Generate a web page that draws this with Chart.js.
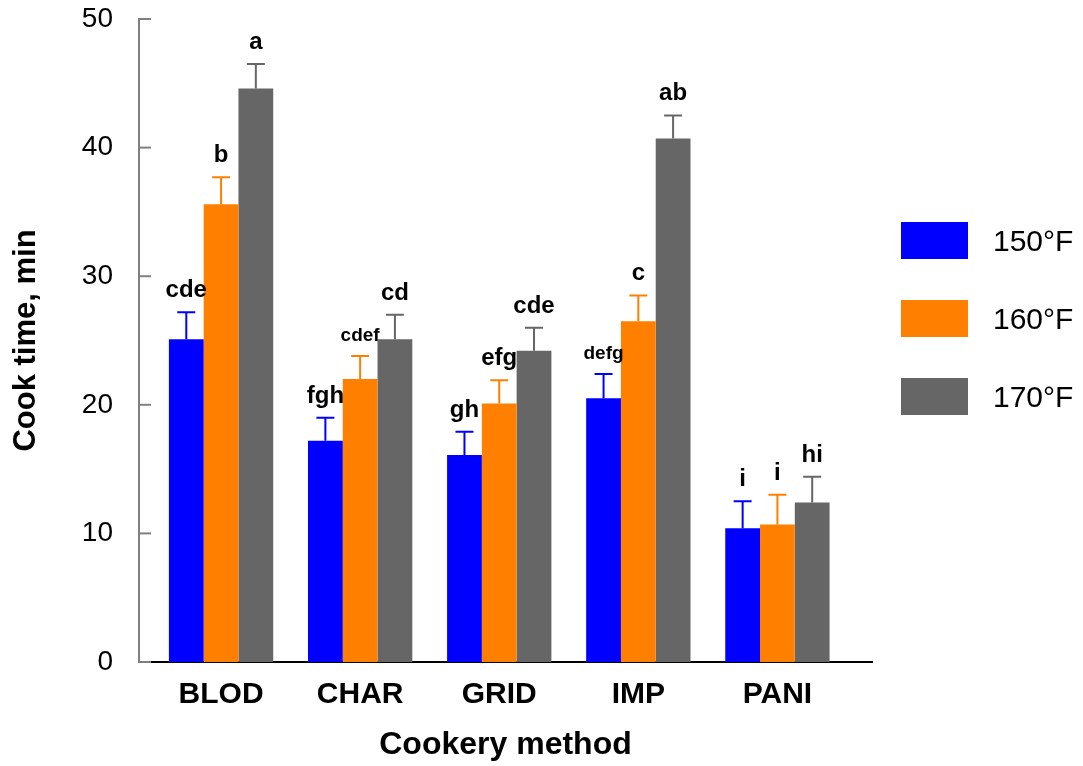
<!DOCTYPE html>
<html>
<head>
<meta charset="utf-8">
<script src="https://cdn.jsdelivr.net/npm/chart.js@4.4.1/dist/chart.umd.min.js"></script>
<style>
    body { margin: 0; background: #fff; }
    #khung { position: relative; width: 1083px; height: 766px; }
    #chuGiai {
        position: absolute; left: 901px; top: 222px;
        font-family: "Liberation Sans", Arial, sans-serif; font-size: 30px; color: #000;
    }
    .muc { display: flex; align-items: center; height: 37px; margin-bottom: 41px; }
    .oMau { width: 67px; height: 37px; margin-right: 25px; }
</style>
</head>
<body>
<div id="khung">
    <canvas id="bieuDo" width="1083" height="766"></canvas>
    <div id="chuGiai"></div>
</div>
<script>
// du lieu doc tu hinh
const phuongPhap = ["BLOD", "CHAR", "GRID", "IMP", "PANI"];
const nhietDo = ["150°F", "160°F", "170°F"];
const mauCot = ["#0000ff", "#ff8000", "#666666"];

const thoiGian150 = [25.1, 17.2, 16.1, 20.5, 10.4];
const thoiGian160 = [35.6, 22.0, 20.1, 26.5, 10.7];
const thoiGian170 = [44.6, 25.1, 24.2, 40.7, 12.4];

const saiSo150 = [2.1, 1.8, 1.8, 1.9, 2.1];
const saiSo160 = [2.1, 1.8, 1.8, 2.0, 2.3];
const saiSo170 = [1.9, 1.9, 1.8, 1.8, 2.0];

const chu150 = ["cde", "fgh", "gh", "defg", "i"];
const chu160 = ["b", "cdef", "efg", "c", "i"];
const chu170 = ["a", "cd", "cde", "ab", "hi"];

const mocTrucY = [0, 10, 20, 30, 40, 50];

const FONT = "'Liberation Sans', Arial, sans-serif";

// ve thanh sai so va chu cai tren moi cot
const veSaiSo = {
    id: "veSaiSo",
    afterDatasetsDraw(chart) {
        const ctx = chart.ctx;
        const y = chart.scales.y;
        chart.data.datasets.forEach((ds, i) => {
            const meta = chart.getDatasetMeta(i);
            meta.data.forEach((cot, j) => {
                const dinhCot = y.getPixelForValue(ds.data[j].y);
                const dinhSaiSo = y.getPixelForValue(ds.data[j].y + ds.saiSo[j]);
                ctx.save();
                ctx.strokeStyle = ds.backgroundColor;
                ctx.lineWidth = 2;
                ctx.beginPath();
                ctx.moveTo(cot.x, dinhCot);
                ctx.lineTo(cot.x, dinhSaiSo);
                ctx.moveTo(cot.x - 9, dinhSaiSo);
                ctx.lineTo(cot.x + 9, dinhSaiSo);
                ctx.stroke();

                const chu = ds.chuCai[j];
                ctx.fillStyle = "#000";
                ctx.textAlign = "center";
                ctx.textBaseline = "alphabetic";
                ctx.font = (chu.length > 3 ? "bold 19px " : "bold 24px ") + FONT;
                ctx.fillText(chu, cot.x, dinhSaiSo - 15);
                ctx.restore();
            });
        });
    },
    afterDraw(chart) {
        // vach chia huong vao trong truc y
        const ctx = chart.ctx;
        const y = chart.scales.y;
        const trai = chart.chartArea.left;
        ctx.save();
        ctx.strokeStyle = "#808080";
        ctx.lineWidth = 2;
        y.ticks.forEach((t) => {
            const py = y.getPixelForValue(t.value);
            ctx.beginPath();
            ctx.moveTo(trai, py);
            ctx.lineTo(trai + 12, py);
            ctx.stroke();
        });
        ctx.restore();
    },
};

function taoDataset(nhan, mau, giaTri, saiSo, chuCai) {
    return {
        label: nhan,
        data: giaTri.map((v, i) => ({ x: i, y: v })),
        backgroundColor: mau,
        saiSo: saiSo,
        chuCai: chuCai,
        categoryPercentage: 0.75,
        barPercentage: 1.0,
    };
}

function veBieuDo() {
    const datasets = [
        taoDataset(nhietDo[0], mauCot[0], thoiGian150, saiSo150, chu150),
        taoDataset(nhietDo[1], mauCot[1], thoiGian160, saiSo160, chu160),
        taoDataset(nhietDo[2], mauCot[2], thoiGian170, saiSo170, chu170),
    ];

    new Chart(document.getElementById("bieuDo"), {
        type: "bar",
        data: { datasets: datasets },
        options: {
            responsive: false,
            animation: false,
            layout: { padding: { left: 0, right: 211, top: 19, bottom: 0 } },
            plugins: {
                legend: { display: false },
                tooltip: { enabled: false },
            },
            scales: {
                x: {
                    type: "linear",
                    offset: false,
                    min: -0.59,
                    max: 4.68,
                    grid: { display: false, drawTicks: false },
                    border: { display: true, color: "#000", width: 2 },
                    ticks: {
                        stepSize: 1,
                        includeBounds: false,
                        autoSkip: false,
                        maxRotation: 0,
                        padding: 15,
                        color: "#000",
                        font: { family: FONT, size: 30, weight: "bold" },
                        callback: (v) => (Number.isInteger(v) && phuongPhap[v]) || "",
                    },
                    title: {
                        display: true,
                        text: "Cookery method",
                        color: "#000",
                        font: { family: FONT, size: 32, weight: "bold" },
                        padding: { top: 8, bottom: 2 },
                    },
                    afterFit: (scale) => {
                        scale.height = 104;
                        scale.paddingLeft = 0;
                        scale.paddingRight = 0;
                    },
                },
                y: {
                    min: 0,
                    max: 50,
                    afterBuildTicks: (scale) => { scale.ticks = mocTrucY.map((v) => ({ value: v })); },
                    grid: { display: false, drawTicks: false },
                    border: { display: true, color: "#808080", width: 2 },
                    ticks: {
                        padding: 26,
                        color: "#000",
                        font: { family: FONT, size: 28 },
                    },
                    title: {
                        display: true,
                        text: "Cook time, min",
                        color: "#000",
                        font: { family: FONT, size: 31, weight: "bold" },
                        padding: { top: 8, bottom: 0 },
                    },
                    afterFit: (scale) => {
                        scale.width = 139;
                        scale.paddingTop = 0;
                        scale.paddingBottom = 0;
                    },
                },
            },
        },
        plugins: [veSaiSo],
    });

    // chu giai ben phai
    const chuGiai = document.getElementById("chuGiai");
    nhietDo.forEach((nhan, i) => {
        const muc = document.createElement("div");
        muc.className = "muc";
        const o = document.createElement("div");
        o.className = "oMau";
        o.style.background = mauCot[i];
        const chu = document.createElement("span");
        chu.textContent = nhan;
        muc.appendChild(o);
        muc.appendChild(chu);
        chuGiai.appendChild(muc);
    });
}

document.addEventListener("DOMContentLoaded", veBieuDo);
</script>
</body>
</html>
